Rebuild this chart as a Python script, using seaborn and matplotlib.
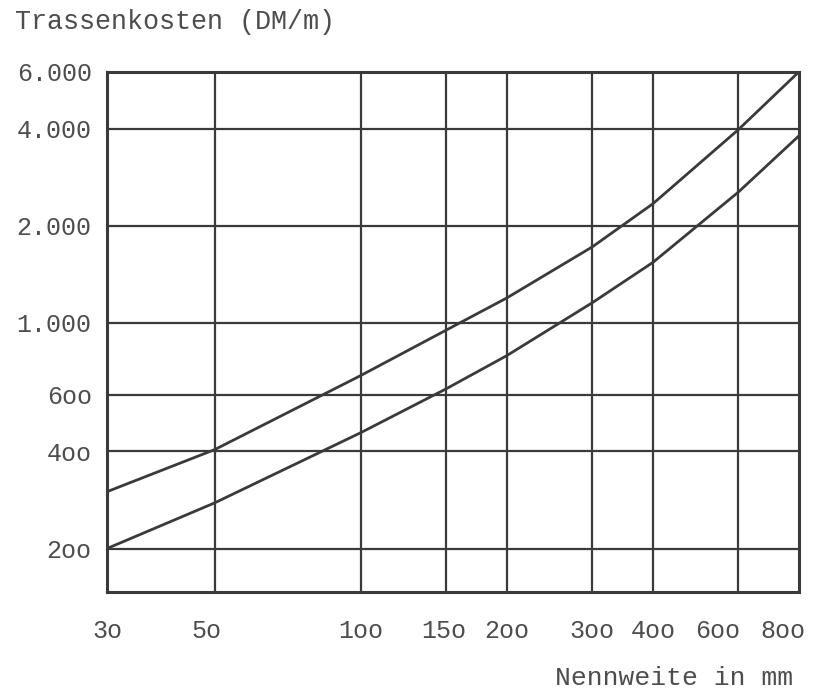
import numpy as np
import pandas as pd
import matplotlib
matplotlib.use("Agg")
import matplotlib.pyplot as plt
import matplotlib.transforms as mtransforms
import seaborn as sns

# Nennweite (mm) and route costs (DM/m) for the two cost curves
dn = [30, 50, 100, 150, 200, 300, 400, 600, 800]
cost_upper = [300, 405, 687, 950, 1195, 1720, 2340, 3970, 6000]
cost_lower = [200, 277, 457, 625, 792, 1155, 1540, 2543, 3800]

x_ticks = [30, 50, 100, 150, 200, 300, 400, 600, 800]
x_tick_labels = ["3o", "5o", "1oo", "15o", "2oo", "3oo", "4oo", "6oo", "8oo"]
y_ticks = [200, 400, 600, 1000, 2000, 4000, 6000]
y_tick_labels = ["2oo", "4oo", "6oo", "1.000", "2.000", "4.000", "6.000"]

sns.set_style("white")
plt.rcParams["font.family"] = ["Liberation Mono", "DejaVu Sans Mono"]

ink = "#3a3a3a"
text_col = "#4d4d4d"

fig = plt.figure(figsize=(8.14, 6.89), dpi=100)
ax = fig.add_axes([0.1314, 0.1412, 0.8502, 0.7547])

df = pd.DataFrame({"dn": dn, "upper": cost_upper, "lower": cost_lower})

ax.set_xscale("log")
ax.set_yscale("log")

# grid drawn as plain lines at the labelled values
for xv in x_ticks[1:-1]:
    ax.axvline(xv, color=ink, lw=1.6, zorder=1)
for yv in y_ticks[:-1]:
    ax.axhline(yv, color=ink, lw=1.6, zorder=1)

sns.lineplot(data=df, x="dn", y="upper", ax=ax, color=ink, lw=2.0, zorder=3)
sns.lineplot(data=df, x="dn", y="lower", ax=ax, color=ink, lw=2.0, zorder=3)

ax.set_xlim(30, 800)
ax.set_ylim(147, 6000)

ax.xaxis.set_major_locator(matplotlib.ticker.FixedLocator(x_ticks))
ax.xaxis.set_minor_locator(matplotlib.ticker.NullLocator())
ax.set_xticklabels(x_tick_labels)
ax.yaxis.set_major_locator(matplotlib.ticker.FixedLocator(y_ticks))
ax.yaxis.set_minor_locator(matplotlib.ticker.NullLocator())
ax.set_yticklabels(y_tick_labels)

ax.tick_params(axis="both", length=0, labelsize=18, colors=text_col)
ax.tick_params(axis="x", pad=19.5)
ax.tick_params(axis="y", pad=11)

# small horizontal nudges of some x labels (pixels)
shifts = {1: -8, 3: -2, 7: -21, 8: -16}
xlabels = ax.get_xticklabels()
for i, dx in shifts.items():
    lbl = xlabels[i]
    lbl.set_transform(lbl.get_transform() +
                      mtransforms.ScaledTranslation(dx / 100, 0, fig.dpi_scale_trans))

for sp in ax.spines.values():
    sp.set_visible(True)
    sp.set_color(ink)
    sp.set_linewidth(2.2)

ax.set_xlabel("")
ax.set_ylabel("")

fig.text(0.018, 0.9685, "Trassenkosten (DM/m)", fontsize=19.3, color=text_col,
         ha="left", va="center")
fig.text(0.974, 0.016, "Nennweite in mm", fontsize=19, color=text_col,
         ha="right", va="center")

fig.savefig("out.png", dpi=100, facecolor="white")
